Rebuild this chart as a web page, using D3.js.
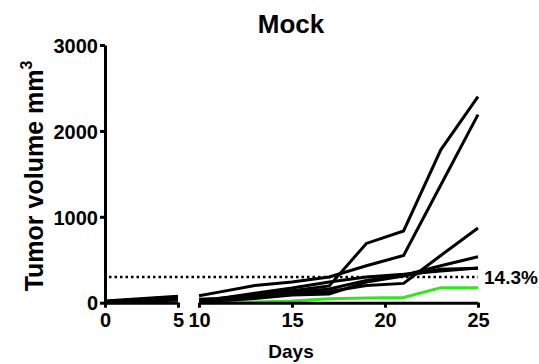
<!DOCTYPE html>
<html>
<head>
<meta charset="utf-8">
<script src="https://cdn.jsdelivr.net/npm/d3@7"></script>
<style>
  body { margin: 0; background: #fff; }
  svg { display: block; font-family: "Liberation Sans", Arial, Helvetica, sans-serif; font-weight: bold; }
</style>
</head>
<body>
<svg id="chart" width="539" height="364"></svg>
<script>
// days before and after the axis break
const daysEarly = [0, 5];
const daysLate = [10, 11, 13, 15, 17, 19, 21, 23, 25];

// tumor volume per mouse (mm3), early part then late part
const mouse1Early = [10, 60];
const mouse1Late = [40, 50, 90, 140, 195, 690, 835, 1780, 2400];
const mouse2Early = [20, 75];
const mouse2Late = [80, 120, 200, 240, 300, 430, 550, 1370, 2190];
const mouse3Early = [5, 40];
const mouse3Late = [20, 30, 60, 110, 130, 200, 225, 550, 870];
const mouse4Early = [10, 50];
const mouse4Late = [30, 40, 70, 120, 160, 260, 320, 430, 535];
const mouse5Early = [0, 30];
const mouse5Late = [10, 20, 50, 90, 100, 240, 310, 390, 400];
const mouse6Early = [15, 65];
const mouse6Late = [30, 45, 110, 170, 240, 300, 330, 370, 405];
const mouse7Early = [0, 10];
const mouse7Late = [0, 2, 8, 20, 45, 55, 60, 175, 175];

const yTicks = [0, 1000, 2000, 3000];
const xTicksEarly = [0, 5];
const xTicksLate = [10, 15, 20, 25];
const threshold = 300;
const thresholdLabel = "14.3%";

const series = [
  { name: "m7", early: mouse7Early, late: mouse7Late, color: "#33e51f" },
  { name: "m1", early: mouse1Early, late: mouse1Late, color: "#000" },
  { name: "m2", early: mouse2Early, late: mouse2Late, color: "#000" },
  { name: "m3", early: mouse3Early, late: mouse3Late, color: "#000" },
  { name: "m4", early: mouse4Early, late: mouse4Late, color: "#000" },
  { name: "m5", early: mouse5Early, late: mouse5Late, color: "#000" },
  { name: "m6", early: mouse6Early, late: mouse6Late, color: "#000" }
];

const svg = d3.select("#chart");

// two x scales because of the axis break
const xEarly = d3.scaleLinear().domain([0, 5]).range([105, 178]);
const xLate = d3.scaleLinear().domain([10, 25]).range([199, 478]);
const y = d3.scaleLinear().domain([0, 3000]).range([302.7, 45]);

// lines
const lineEarly = d3.line().x((d, i) => xEarly(daysEarly[i])).y(d => y(d));
const lineLate = d3.line().x((d, i) => xLate(daysLate[i])).y(d => y(d));

const g = svg.append("g");
series.forEach(s => {
  g.append("path")
    .attr("d", lineEarly(s.early))
    .attr("fill", "none")
    .attr("stroke", s.color)
    .attr("stroke-width", 3);
  g.append("path")
    .attr("d", lineLate(s.late))
    .attr("fill", "none")
    .attr("stroke", s.color)
    .attr("stroke-width", 3);
});

// dotted threshold
svg.append("line")
  .attr("x1", xEarly(0) + 4)
  .attr("x2", xLate(25))
  .attr("y1", y(threshold))
  .attr("y2", y(threshold))
  .attr("stroke", "#000")
  .attr("stroke-width", 2.5)
  .attr("stroke-dasharray", "2.5,3");

svg.append("text")
  .attr("x", xLate(25) + 6)
  .attr("y", y(threshold) + 7)
  .attr("font-size", 19)
  .text(thresholdLabel);

// axes
function styleAxis(sel) {
  sel.selectAll("path, line").attr("stroke", "#000").attr("stroke-width", 3);
  sel.selectAll("text").attr("font-size", 20).attr("font-weight", "bold").attr("fill", "#000")
    .attr("font-family", "Liberation Sans, Arial, sans-serif");
}

svg.append("g")
  .attr("transform", "translate(" + xEarly(0) + ",0)")
  .call(d3.axisLeft(y).tickValues(yTicks).tickFormat(d3.format("d")).tickSize(5).tickSizeOuter(0).tickPadding(2))
  .call(styleAxis)
  .selectAll("text").attr("dy", "0.36em");

svg.append("g")
  .attr("transform", "translate(0," + y(0) + ")")
  .call(d3.axisBottom(xEarly).tickValues(xTicksEarly).tickFormat(d3.format("d")).tickSize(5).tickSizeOuter(0).tickPadding(5))
  .call(styleAxis);

svg.append("g")
  .attr("transform", "translate(0," + y(0) + ")")
  .call(d3.axisBottom(xLate).tickValues(xTicksLate).tickFormat(d3.format("d")).tickSize(5).tickSizeOuter(0).tickPadding(5))
  .call(styleAxis);

// titles
svg.append("text")
  .attr("x", 291)
  .attr("y", 33)
  .attr("text-anchor", "middle")
  .attr("font-size", 26)
  .text("Mock");

svg.append("text")
  .attr("x", 291)
  .attr("y", 358)
  .attr("text-anchor", "middle")
  .attr("font-size", 19)
  .text("Days");

const yl = svg.append("text")
  .attr("transform", "translate(43,176) rotate(-90)")
  .attr("text-anchor", "middle")
  .attr("font-size", 25);
yl.append("tspan").text("Tumor volume mm");
yl.append("tspan").attr("font-size", 16).attr("dy", -11).text("3");
</script>
</body>
</html>
